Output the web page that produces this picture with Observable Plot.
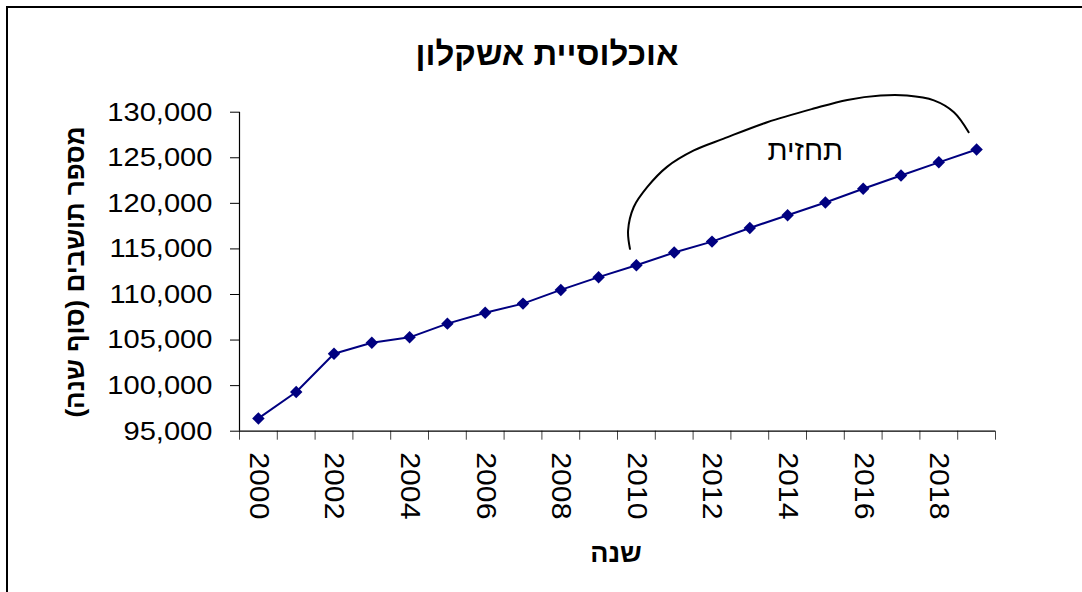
<!DOCTYPE html>
<html><head><meta charset="utf-8">
<script src="https://cdn.jsdelivr.net/npm/d3@7"></script>
<script src="https://cdn.jsdelivr.net/npm/@observablehq/plot@0.6"></script>
<style>
html,body{margin:0;padding:0;background:#fff;overflow:hidden;}
#wrap{position:relative;width:1082px;height:592px;overflow:hidden;font-family:"Liberation Sans",Arial,sans-serif;color:#000;}
#border{position:absolute;left:6px;top:6px;width:1200px;height:700px;border:2px solid #000;box-sizing:border-box;}
#chart{position:absolute;left:0;top:0;}
#title{position:absolute;left:0;width:1094px;top:37px;line-height:33px;text-align:center;font-weight:bold;font-size:33px;direction:rtl;white-space:nowrap;}
#ylab{position:absolute;left:75px;top:272px;transform:translate(-50%,-50%) rotate(-90deg);font-weight:bold;font-size:26px;line-height:26px;direction:rtl;white-space:nowrap;}
#xlab{position:absolute;left:616px;top:553px;transform:translate(-50%,-50%);font-weight:bold;font-size:27px;line-height:27px;direction:rtl;white-space:nowrap;}
</style></head>
<body>
<div id="wrap">
  <div id="border"></div>
  <div id="chart"></div>
  <div id="title"></div>
  <div id="ylab"></div>
  <div id="xlab"></div>
</div>
<script>
// ---- data ----
const titleText = "אוכלוסיית אשקלון";
const yLabelText = "מספר תושבים (סוף שנה)";
const xLabelText = "שנה";
const forecastText = "תחזית";

const years = [2000,2001,2002,2003,2004,2005,2006,2007,2008,2009,2010,2011,2012,2013,2014,2015,2016,2017,2018,2019];
const population = [96400,99300,103500,104700,105300,106800,108000,109000,110500,111900,113200,114600,115800,117300,118700,120100,121600,123050,124500,125900];

const yTicks = [95000,100000,105000,110000,115000,120000,125000,130000];
const xTickLabels = [2000,2002,2004,2006,2008,2010,2012,2014,2016,2018];

// forecast bracket (in year / population units)
const arcYears = [2009.83,2009.78,2009.93,2010.29,2010.81,2011.52,2012.31,2013.46,2014.69,2015.58,2016.46,2017.16,2017.87,2018.40,2018.79];
const arcValues = [115000,117000,119600,121800,124000,125800,127100,128900,130400,131350,131830,131830,131300,130000,127800];
const forecastLabel = [{year: 2014.47, value: 125800, text: forecastText}];

// ---- build ----
const data = years.map((y, i) => ({year: y, value: population[i]}));
const arc = arcYears.map((y, i) => ({year: y, value: arcValues[i]}));
const bounds = years.map(y => y - 0.5).concat([years[years.length - 1] + 0.5]);

document.getElementById("title").textContent = titleText;
document.getElementById("ylab").textContent = yLabelText;
document.getElementById("xlab").textContent = xLabelText;

const chart = Plot.plot({
  width: 1082,
  height: 592,
  marginLeft: 239,
  marginRight: 87,
  marginTop: 111.7,
  marginBottom: 161.3,
  style: {fontFamily: '"Liberation Sans", Arial, sans-serif', fontSize: "26px", color: "#000", background: "transparent", overflow: "visible"},
  x: {type: "linear", domain: [bounds[0], bounds[bounds.length - 1]]},
  y: {domain: [yTicks[0], yTicks[yTicks.length - 1]]},
  marks: [
    Plot.axisY({ticks: yTicks, tickSize: 9, tickPadding: 18, tickFormat: d3.format(","), label: null, stroke: "#000", fontSize: 26}),
    Plot.axisX({ticks: bounds, tickSize: 9, tickFormat: () => "", label: null, stroke: "#444"}),
    Plot.axisX({ticks: xTickLabels, tickSize: 0, tickRotate: 90, tickPadding: 21, tickFormat: d => String(d), label: null, fontSize: 27}),
    Plot.ruleY([yTicks[0]], {stroke: "#000", strokeWidth: 1.2}),
    Plot.ruleX([bounds[0]], {stroke: "#000", strokeWidth: 1.2}),
    Plot.line(data, {x: "year", y: "value", stroke: "#000080", strokeWidth: 2}),
    Plot.dot(data, {x: "year", y: "value", symbol: "diamond2", r: 5.6, fill: "#000080", stroke: null}),
    Plot.line(arc, {x: "year", y: "value", curve: "catmull-rom", stroke: "#000", strokeWidth: 2}),
    Plot.text(forecastLabel, {x: "year", y: "value", text: "text", fontSize: 29, fill: "#000"})
  ]
});
document.getElementById("chart").appendChild(chart);

function stretch(sel, sx) {
  chart.querySelectorAll(sel).forEach(t => {
    const tr = t.getAttribute("transform");
    if (tr) t.setAttribute("transform", tr + ` scale(${sx},1)`);
  });
}
stretch('g[aria-label="y-axis tick label"] text', 1.12);
stretch('g[aria-label="x-axis tick label"] text', 1.12);
</script>
</body></html>
